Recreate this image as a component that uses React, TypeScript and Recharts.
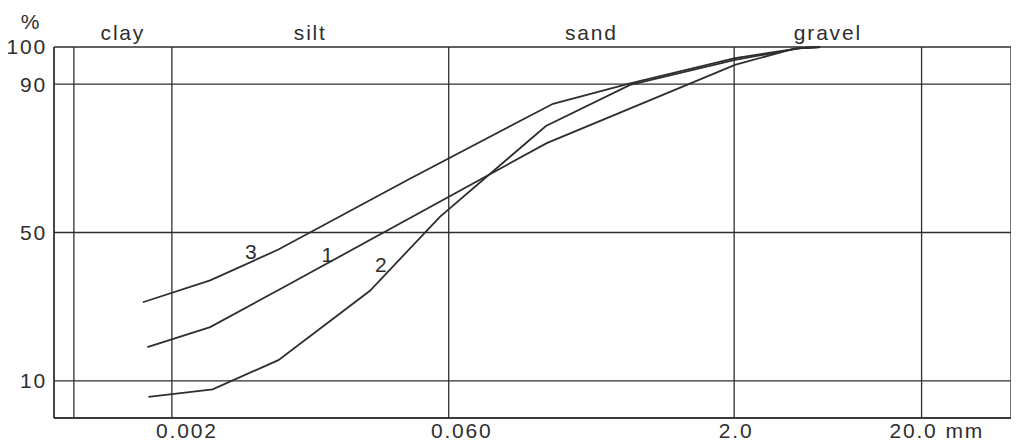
import { LineChart, Line, XAxis, YAxis, CartesianGrid, ReferenceDot } from 'recharts';

const INK = '#2e2e2e';
const FONT = '"Liberation Sans", Arial, sans-serif';

// particle size in mm (log axis), percent passing
const sizeTicks = [0.00047, 0.0006, 0.002, 0.06, 2, 20, 60];
const sizeLabels: Record<string, string> = { '0.002': '0.002', '0.06': '0.060', '2': '2.0', '20': '20.0' };
const percentTicks = [0, 10, 50, 90, 100];

const zoneNames = ['clay', 'silt', 'sand', 'gravel'];
const zoneBounds = [0.0006, 0.002, 0.06, 2, 20];

const curve1 = [
  { x: 0.00148, y: 19.1 },
  { x: 0.0032, y: 24.5 },
  { x: 0.0078, y: 35.1 },
  { x: 0.2, y: 74.1 },
  { x: 2.02, y: 95.2 },
  { x: 4.23, y: 99.6 },
  { x: 5.75, y: 100 },
];

const curve2 = [
  { x: 0.0015, y: 5.7 },
  { x: 0.0033, y: 7.7 },
  { x: 0.0074, y: 15.6 },
  { x: 0.0228, y: 34.3 },
  { x: 0.054, y: 54.3 },
  { x: 0.198, y: 78.7 },
  { x: 0.557, y: 89.8 },
  { x: 2.02, y: 96.5 },
  { x: 4.5, y: 99.7 },
  { x: 5.75, y: 100 },
];

const curve3 = [
  { x: 0.0014, y: 31.2 },
  { x: 0.0032, y: 37.1 },
  { x: 0.0074, y: 45.4 },
  { x: 0.037, y: 64.4 },
  { x: 0.216, y: 84.7 },
  { x: 0.557, y: 90.2 },
  { x: 2.02, y: 97 },
  { x: 4.5, y: 99.7 },
  { x: 5.75, y: 100 },
];

const curveTags = [
  { name: '3', x: 0.00533, y: 44.9 },
  { name: '1', x: 0.01367, y: 44.0 },
  { name: '2', x: 0.02634, y: 41.3 },
];

// zone names sit in the middle (on the log scale) of each zone
const zoneTicks = zoneNames.map((name, i) => ({ name, x: Math.sqrt(zoneBounds[i] * zoneBounds[i + 1]) }));

const textStyle = { fontFamily: FONT, fontSize: 21, fill: INK, letterSpacing: 1.8 };

// hand placed offsets of the size labels in the original drawing
const labelShift: Record<string, number> = { '0.002': 15, '0.060': 13, '2.0': 2, '20.0': -8 };

const SizeTick = (props: any) => {
  const { x, y, payload } = props;
  const label = sizeLabels[String(payload.value)];
  if (!label) return null;
  const cx = x + (labelShift[label] || 0);
  return (
    <g>
      <text x={cx} y={y} dy="0.71em" textAnchor="middle" style={textStyle}>
        {label}
      </text>
      {label === '20.0' && (
        <text x={cx + 32} y={y} dy="0.71em" textAnchor="start" style={textStyle}>
          mm
        </text>
      )}
    </g>
  );
};

const series = [
  { key: 'c1', data: curve1 },
  { key: 'c2', data: curve2 },
  { key: 'c3', data: curve3 },
];

export default function App() {
  return (
    <div style={{ width: 1011, height: 434, fontFamily: FONT }}>
      <LineChart width={1011} height={434} margin={{ top: 39, right: 8, bottom: 0, left: 0 }}>
        <CartesianGrid stroke={INK} strokeWidth={1.3} />
        <XAxis
          dataKey="x"
          type="number"
          scale="log"
          domain={[0.00047, 60]}
          allowDataOverflow
          ticks={sizeTicks}
          interval={0}
          height={24}
          tickSize={0}
          tickMargin={5}
          axisLine={{ stroke: INK, strokeWidth: 1.3 }}
          tick={<SizeTick />}
        />
        <YAxis
          type="number"
          domain={[0, 100]}
          ticks={percentTicks}
          interval={0}
          width={46}
          tickSize={0}
          tickMargin={7}
          axisLine={{ stroke: INK, strokeWidth: 1.3 }}
          tick={textStyle}
          tickFormatter={(v: number) => (v === 0 ? '' : String(v))}
          label={{ value: '%', position: 'top', offset: 18, style: textStyle }}
        />
        {series.map(s => (
          <Line
            key={s.key}
            data={s.data}
            dataKey="y"
            stroke={INK}
            strokeWidth={1.8}
            dot={false}
            isAnimationActive={false}
          />
        ))}
        {zoneTicks.map(z => (
          <ReferenceDot
            key={z.name}
            x={z.x}
            y={100}
            r={0}
            fill="none"
            stroke="none"
            label={{ value: z.name, position: 'top', offset: 7, style: textStyle }}
          />
        ))}
        {curveTags.map(t => (
          <ReferenceDot
            key={t.name}
            x={t.x}
            y={t.y}
            r={0}
            fill="none"
            stroke="none"
            label={{ value: t.name, position: 'center', style: textStyle }}
          />
        ))}
      </LineChart>
    </div>
  );
}
